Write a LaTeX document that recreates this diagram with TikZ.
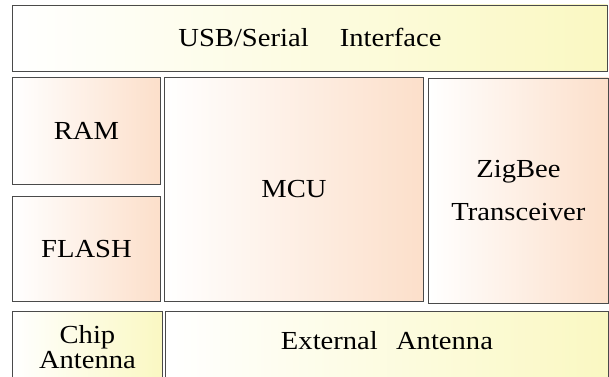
\documentclass[tikz,border=0pt]{standalone}
\usepackage{fontspec}
\setmainfont{Liberation Serif}[FakeStretch=1.1]
\definecolor{yel}{HTML}{FAF8C2}
\definecolor{ora}{HTML}{FCDFCA}
\definecolor{edge}{HTML}{4A4A4A}
\begin{document}
\begin{tikzpicture}[x=1pt,y=-1pt,
  blk/.style={draw=edge, line width=0.9pt, anchor=north west, inner sep=0pt,
    align=center, font=\fontsize{26}{43}\selectfont},
  yblk/.style={blk, left color=white, right color=yel},
  oblk/.style={blk, left color=white, right color=ora}]
\useasboundingbox (0,0) rectangle (609,376);
\begin{scope}
\clip (0,0) rectangle (609,376);
\node[yblk, minimum width=595, minimum height=66] (usb) at (12,4.5) {USB/Serial\hspace{1.2em}Interface};
\node[oblk, minimum width=148, minimum height=107] (ram) at (12,77) {RAM};
\node[oblk, minimum width=148, minimum height=105] (flash) at (12,196) {FLASH};
\node[oblk, minimum width=259, minimum height=224] (mcu) at (164,77) {MCU};
\node[oblk, minimum width=180, minimum height=225] (zig) at (428,77.5) {ZigBee\\Transceiver};
\node[yblk, minimum width=150, minimum height=72, font=\fontsize{26}{25}\selectfont] (chip) at (12,311) {Chip\\Antenna};
\node[yblk, minimum width=443, minimum height=75, text height=18pt, text depth=17pt] (ext) at (165,311) {External\hspace{0.7em}Antenna};
\end{scope}
\end{tikzpicture}
\end{document}
